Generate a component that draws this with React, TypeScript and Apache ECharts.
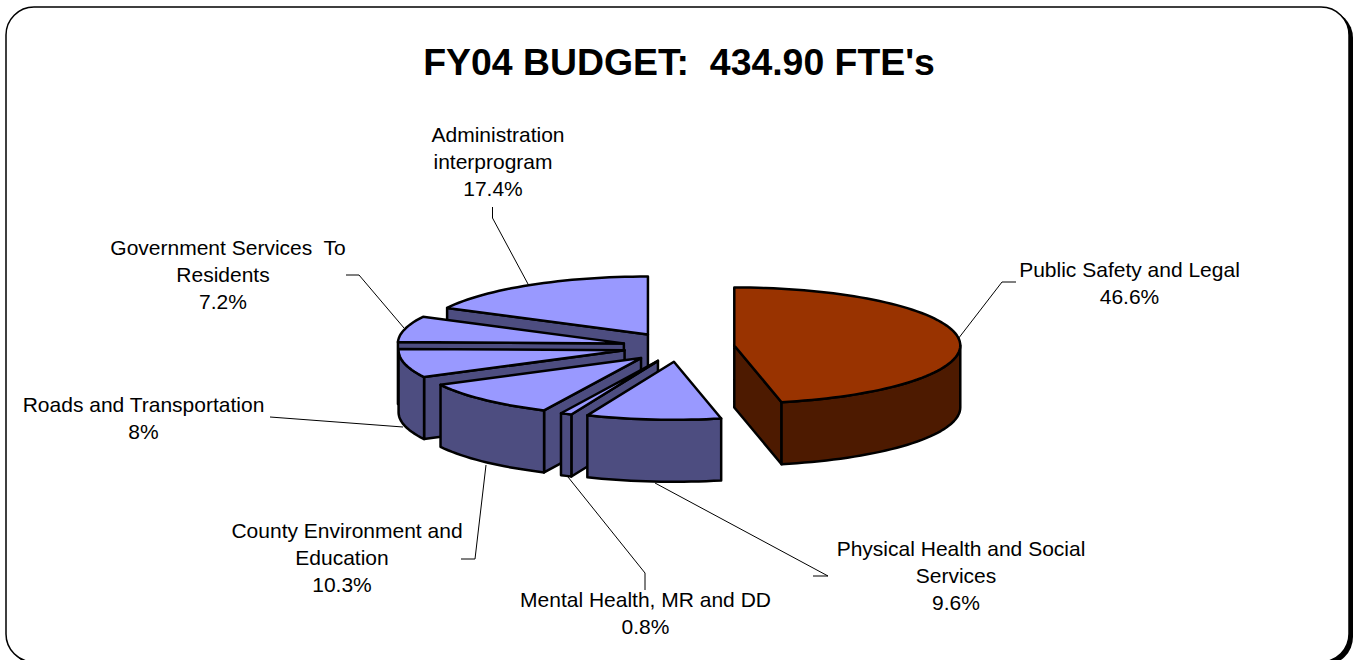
import React, { useEffect, useRef } from "react";
import * as echarts from "echarts";

const titleText = "FY04 BUDGET:  434.90 FTE's";
const categories = [
  "Public Safety and Legal",
  "Physical Health and Social\nServices",
  "Mental Health, MR and DD",
  "County Environment and\nEducation",
  "Roads and Transportation",
  "Government Services  To\nResidents",
  "Administration\ninterprogram",
];
const percentLabels = ["46.6%", "9.6%", "0.8%", "10.3%", "8%", "7.2%", "17.4%"];
const values = [46.6, 9.6, 0.8, 10.3, 8, 7.2, 17.4];
const tops = ["#993300", "#9999ff", "#9999ff", "#9999ff", "#9999ff", "#9999ff", "#9999ff"];
const sides = ["#4d1a00", "#4d4d80", "#4d4d80", "#4d4d80", "#4d4d80", "#4d4d80", "#4d4d80"];

// pie layout (pixels)
const CX = 677.6, CY = 346.5, RX = 226, RY = 58, DEPTH = 62, EXPLODE = 57;
const sliceNudge: [number, number][] = [
  [0, 0.5], [1.5, 0.7], [3.5, 1], [3, 1], [2.5, 0.5], [1.5, 0.5], [0, 0.5],
];
const labelX = [1129.5, 956, 645.5, 342, 143.5, 223, 493];
const labelFirstY = [269, 548.5, 599.5, 530, 404.5, 247, 134.5];
const LINE_HEIGHT = 27;
const FIRST_LINE_SHIFT = 5;
const leaders: [number, number][][] = [
  [[1016, 282], [1002, 282], [958, 339]],
  [[813, 576], [828, 576], [655, 483]],
  [[645, 590], [645, 573], [568, 477]],
  [[461, 559], [475, 559], [486, 465]],
  [[270, 417], [403, 427]],
  [[346, 275], [359, 275], [404, 328]],
  [[492.5, 207], [492.5, 218], [528, 284]],
];

const total = values.reduce((a, b) => a + b, 0);
const cumulative: number[] = [];
values.reduce((acc, v, i) => { cumulative[i] = acc; return acc + v; }, 0);
const rad = (d: number) => (d * Math.PI) / 180;

function renderSlice(params: any, api: any) {
  const i = api.value(1);
  const a0 = (cumulative[i] / total) * 360;
  const a1 = ((cumulative[i] + api.value(0)) / total) * 360;
  const mid = rad((a0 + a1) / 2);
  const k = RY / RX;
  const ox = CX + EXPLODE * Math.sin(mid) + sliceNudge[i][0];
  const oy = CY - EXPLODE * k * Math.cos(mid) + sliceNudge[i][1];
  const pt = (deg: number, dy = 0): number[] => [
    ox + RX * Math.sin(rad(deg)),
    oy - RY * Math.cos(rad(deg)) + dy,
  ];
  const arc = (s: number, e: number, dy = 0) => {
    const n = Math.max(2, Math.ceil(Math.abs(e - s) / 2));
    const out: number[][] = [];
    for (let j = 0; j <= n; j++) out.push(pt(s + ((e - s) * j) / n, dy));
    return out;
  };
  const side = sides[i];
  const wall = (points: number[][]) => ({
    type: "polygon",
    shape: { points },
    style: { fill: side, stroke: "#000", lineWidth: 2.5, lineJoin: "round" },
  });
  const children: any[] = [];
  // faces that point towards the viewer
  if (Math.sin(rad(a0)) < -1e-6) {
    children.push(wall([[ox, oy], pt(a0), pt(a0, DEPTH), [ox, oy + DEPTH]]));
  }
  if (Math.sin(rad(a1)) > 1e-6) {
    children.push(wall([[ox, oy], pt(a1), pt(a1, DEPTH), [ox, oy + DEPTH]]));
  }
  const fs = Math.max(a0, 90), fe = Math.min(a1, 270);
  if (fe > fs) {
    children.push(wall([...arc(fs, fe), ...arc(fe, fs, DEPTH)]));
  }
  children.push({
    type: "polygon",
    shape: { points: [[ox, oy], ...arc(a0, a1)] },
    style: { fill: tops[i], stroke: "#000", lineWidth: 2.5, lineJoin: "round" },
  });
  return { type: "group", children };
}

export default function App() {
  const ref = useRef<HTMLDivElement>(null);
  useEffect(() => {
    document.body.style.margin = "0";
    const chart = echarts.init(ref.current!, undefined, { renderer: "svg" });
    const order = [6, 5, 4, 3, 2, 1, 0];
    const labelTexts = categories.flatMap((c, i) => {
      const lines = [...c.split("\n"), percentLabels[i]];
      return lines.map((line, j) => ({
        type: "text", z: 6,
        x: labelX[i] + (j === 0 && lines.length > 2 ? FIRST_LINE_SHIFT : 0),
        y: labelFirstY[i] + j * LINE_HEIGHT,
        style: {
          text: line,
          fontFamily: "Liberation Sans", fontSize: 21,
          fill: "#000", align: "center", verticalAlign: "middle",
        },
      }));
    });
    chart.setOption({
      animation: false,
      backgroundColor: "#fff",
      title: {
        text: titleText,
        left: 674,
        top: 38.5,
        textAlign: "center",
        textStyle: { fontFamily: "Liberation Sans", fontWeight: "bold", fontSize: 37.4, color: "#000" },
        z: 5,
      },
      graphic: [
        { type: "rect", z: 0, shape: { x: 9, y: 10, width: 1344, height: 655, r: 28 }, style: { fill: "#000" } },
        { type: "rect", z: 1, shape: { x: 6, y: 7, width: 1343, height: 655, r: 28 }, style: { fill: "#fff", stroke: "#000", lineWidth: 1.5 } },
        ...leaders.map((points) => ({
          type: "polyline", z: 2, shape: { points }, style: { fill: "none", stroke: "#000", lineWidth: 1 },
        })),
        ...labelTexts,
      ],
      series: [{
        type: "custom",
        coordinateSystem: "none",
        renderItem: renderSlice,
        z: 4,
        silent: true,
        data: order.map((i) => [values[i], i]),
      }],
    });
    return () => chart.dispose();
  }, []);
  return <div ref={ref} style={{ position: "fixed", left: 0, top: 0, width: 1353, height: 660, overflow: "hidden" }} />;
}
